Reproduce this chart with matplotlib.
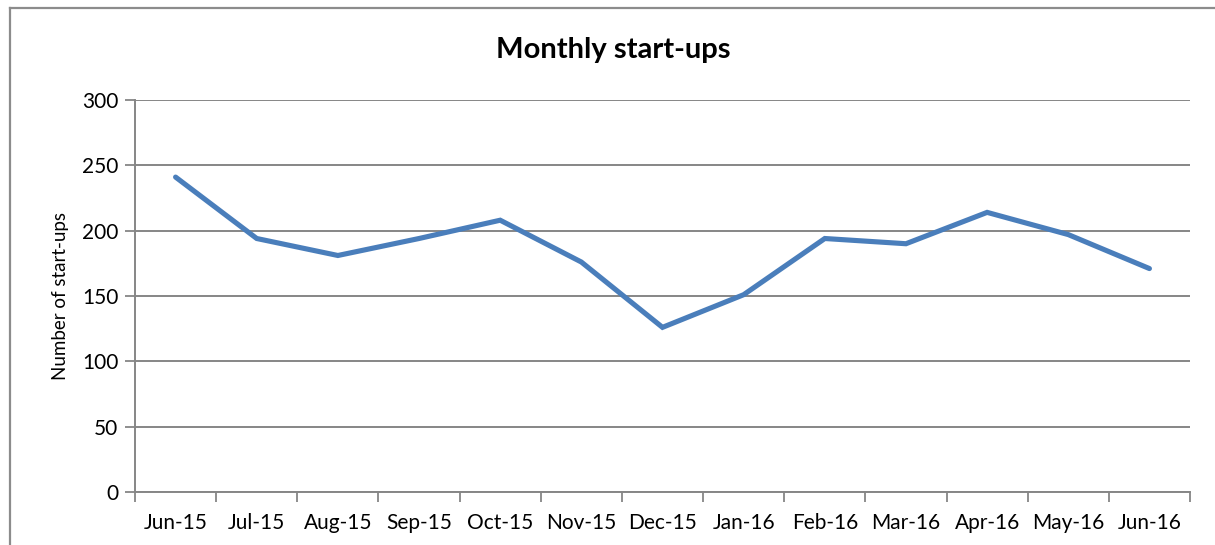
import matplotlib
matplotlib.use("Agg")
import matplotlib.pyplot as plt
from matplotlib.lines import Line2D

months = ["Jun-15", "Jul-15", "Aug-15", "Sep-15", "Oct-15", "Nov-15", "Dec-15",
          "Jan-16", "Feb-16", "Mar-16", "Apr-16", "May-16", "Jun-16"]
startups = [241, 194, 181, 194, 208, 176, 126, 151, 194, 190, 214, 197, 171]
yticks = [0, 50, 100, 150, 200, 250, 300]

plt.rcParams['font.family'] = ['Lato', 'DejaVu Sans']

fig = plt.figure(figsize=(12.15, 5.45), dpi=100)
# chart-area border (left and top edges only visible)
bx, by = 9.5/1215, 1 - 8/545
fig.add_artist(Line2D([bx, bx], [0.0, by], transform=fig.transFigure, color='#8c8c8c', linewidth=1.6))
fig.add_artist(Line2D([bx, 1.0], [by, by], transform=fig.transFigure, color='#8c8c8c', linewidth=1.6))

ax = fig.add_axes([135/1215, 1 - 492/545, (1190 - 135)/1215, (492 - 100)/545])
x = list(range(len(months)))
ax.plot(x, startups, color='#4a7ebb', linewidth=3.7, solid_joinstyle='miter', solid_capstyle='round', zorder=3)

ax.set_xlim(-0.5, len(months) - 0.5)
ax.set_ylim(0, 300)
ax.set_yticks(yticks)
ax.set_yticklabels([str(v) for v in yticks], fontsize=15)
ax.yaxis.grid(True, color='#868686', linewidth=1.4)
ax.set_axisbelow(True)

ax.set_xticks([i - 0.5 for i in range(len(months) + 1)])
ax.set_xticklabels([])
ax.set_xticks(x, minor=True)
ax.set_xticklabels(months, minor=True, fontsize=15)
ax.tick_params(axis='x', which='major', length=7, width=1.3, color='#868686')
ax.tick_params(axis='x', which='minor', length=0, pad=15)
ax.tick_params(axis='y', length=7, width=1.3, color='#868686', pad=5)

for s in ['top', 'right']:
    ax.spines[s].set_visible(False)
for s in ['left', 'bottom']:
    ax.spines[s].set_color('#868686')
    ax.spines[s].set_linewidth(1.4)

ax.set_ylabel("Number of start-ups", fontsize=13.5, labelpad=9)
fig.text(613/1215, 1 - 50/545, "Monthly start-ups", ha='center', va='center',
         fontsize=21, fontweight='bold')

fig.savefig("out.png", dpi=100, facecolor='white')
